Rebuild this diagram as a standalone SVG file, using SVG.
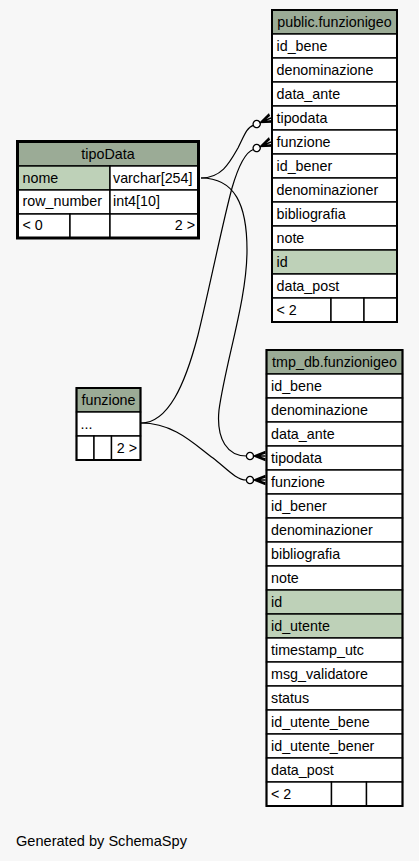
<svg xmlns="http://www.w3.org/2000/svg" width="419" height="861" viewBox="0 0 419 861">
<style>
text{font-family:"Liberation Sans",Arial,sans-serif;font-size:14.3px;fill:#000}
.c{fill:#fff;stroke:#000;stroke-width:1.4}
.h{fill:#9bab96;stroke:#000;stroke-width:1.4}
.k{fill:#bed1b8;stroke:#000;stroke-width:1.4}
.o{fill:none;stroke:#000;stroke-width:2}
.mid{text-anchor:middle}
.end{text-anchor:end}
.e{fill:none;stroke:#000;stroke-width:1.2}
</style>
<defs>
<g id="crow">
<circle cx="0" cy="0" r="3.6" fill="#fff" stroke="#000" stroke-width="1.3"/>
<path d="M15.5,-4.5 L4,0 L15.5,4.5 M4,0 L15.5,0 M15.5,-3 L6,0 L15.5,3" fill="none" stroke="#000" stroke-width="1.4"/>
</g>
</defs>
<rect width="419" height="861" fill="#f7f7f7"/>

<g id="connectors">
<path class="e" d="M201,178 C222,178 230,162 238,148 C244,136 247,127 253.3,125.3"/>
<path class="e" d="M201,178 C235,178 247,205 247,250 C247,300 226,360 219,410 C216,440 228,456 246.4,456"/>
<path class="e" d="M141,423 C168,423 185,385 198,335 C208,295 222,225 232,188 C239,164 246,152 253.3,149.5"/>
<path class="e" d="M141,423 C175,423 195,445 213,458 C226,468 236,480 246.4,480"/>
<use href="#crow" transform="translate(256.7,124) rotate(-22.8)"/>
<use href="#crow" transform="translate(256.7,148) rotate(-22.8)"/>
<use href="#crow" transform="translate(250,456)"/>
<use href="#crow" transform="translate(250,480)"/>
</g>

<g id="public.funzionigeo">
<rect class="h" x="272" y="10" width="125" height="24"/>
<rect class="c" x="272" y="34" width="125" height="24"/>
<rect class="c" x="272" y="58" width="125" height="24"/>
<rect class="c" x="272" y="82" width="125" height="24"/>
<rect class="c" x="272" y="106" width="125" height="24"/>
<rect class="c" x="272" y="130" width="125" height="24"/>
<rect class="c" x="272" y="154" width="125" height="24"/>
<rect class="c" x="272" y="178" width="125" height="24"/>
<rect class="c" x="272" y="202" width="125" height="24"/>
<rect class="c" x="272" y="226" width="125" height="24"/>
<rect class="k" x="272" y="250" width="125" height="24"/>
<rect class="c" x="272" y="274" width="125" height="24"/>
<rect class="c" x="272" y="298" width="59" height="24"/>
<rect class="c" x="331" y="298" width="33" height="24"/>
<rect class="c" x="364" y="298" width="33" height="24"/>
<rect class="o" x="272" y="10" width="125" height="312"/>
<text class="mid" x="334.5" y="27">public.funzionigeo</text>
<text x="276.5" y="50.5">id_bene</text>
<text x="276.5" y="74.5">denominazione</text>
<text x="276.5" y="98.5">data_ante</text>
<text x="276.5" y="122.5">tipodata</text>
<text x="276.5" y="146.5">funzione</text>
<text x="276.5" y="170.5">id_bener</text>
<text x="276.5" y="194.5">denominazioner</text>
<text x="276.5" y="218.5">bibliografia</text>
<text x="276.5" y="242.5">note</text>
<text x="276.5" y="266.5">id</text>
<text x="276.5" y="290.5">data_post</text>
<text x="276.5" y="314.5">&lt; 2</text>
</g>

<g id="tmp_db.funzionigeo">
<rect class="h" x="266.5" y="350" width="136" height="24"/>
<rect class="c" x="266.5" y="374" width="136" height="24"/>
<rect class="c" x="266.5" y="398" width="136" height="24"/>
<rect class="c" x="266.5" y="422" width="136" height="24"/>
<rect class="c" x="266.5" y="446" width="136" height="24"/>
<rect class="c" x="266.5" y="470" width="136" height="24"/>
<rect class="c" x="266.5" y="494" width="136" height="24"/>
<rect class="c" x="266.5" y="518" width="136" height="24"/>
<rect class="c" x="266.5" y="542" width="136" height="24"/>
<rect class="c" x="266.5" y="566" width="136" height="24"/>
<rect class="k" x="266.5" y="590" width="136" height="24"/>
<rect class="k" x="266.5" y="614" width="136" height="24"/>
<rect class="c" x="266.5" y="638" width="136" height="24"/>
<rect class="c" x="266.5" y="662" width="136" height="24"/>
<rect class="c" x="266.5" y="686" width="136" height="24"/>
<rect class="c" x="266.5" y="710" width="136" height="24"/>
<rect class="c" x="266.5" y="734" width="136" height="24"/>
<rect class="c" x="266.5" y="758" width="136" height="24"/>
<rect class="c" x="266.5" y="782" width="65" height="24"/>
<rect class="c" x="331.5" y="782" width="35" height="24"/>
<rect class="c" x="366.5" y="782" width="36" height="24"/>
<rect class="o" x="266.5" y="350" width="136" height="456"/>
<text class="mid" x="334.5" y="367">tmp_db.funzionigeo</text>
<text x="271" y="390.5">id_bene</text>
<text x="271" y="414.5">denominazione</text>
<text x="271" y="438.5">data_ante</text>
<text x="271" y="462.5">tipodata</text>
<text x="271" y="486.5">funzione</text>
<text x="271" y="510.5">id_bener</text>
<text x="271" y="534.5">denominazioner</text>
<text x="271" y="558.5">bibliografia</text>
<text x="271" y="582.5">note</text>
<text x="271" y="606.5">id</text>
<text x="271" y="630.5">id_utente</text>
<text x="271" y="654.5">timestamp_utc</text>
<text x="271" y="678.5">msg_validatore</text>
<text x="271" y="702.5">status</text>
<text x="271" y="726.5">id_utente_bene</text>
<text x="271" y="750.5">id_utente_bener</text>
<text x="271" y="774.5">data_post</text>
<text x="271" y="798.5">&lt; 2</text>
</g>

<g id="funzione">
<rect class="h" x="76.5" y="388" width="64" height="24"/>
<rect class="c" x="76.5" y="412" width="64" height="24"/>
<rect class="c" x="76.5" y="436" width="17.5" height="24"/>
<rect class="c" x="94" y="436" width="17.5" height="24"/>
<rect class="c" x="111.5" y="436" width="29" height="24"/>
<rect class="o" x="76.5" y="388" width="64" height="72"/>
<text class="mid" x="108.5" y="405">funzione</text>
<text x="80.5" y="428.5">...</text>
<text class="end" x="137" y="452.5">2 &gt;</text>
</g>

<g id="tipoData">
<rect class="h" x="17.5" y="141.5" width="181" height="24.5"/>
<rect class="k" x="17.5" y="166" width="92.5" height="24"/>
<rect class="c" x="110" y="166" width="88.5" height="24"/>
<rect class="c" x="17.5" y="190" width="92.5" height="24"/>
<rect class="c" x="110" y="190" width="88.5" height="24"/>
<rect class="c" x="17.5" y="214" width="52.5" height="24"/>
<rect class="c" x="70" y="214" width="40" height="24"/>
<rect class="c" x="110" y="214" width="88.5" height="24"/>
<rect fill="none" stroke="#000" stroke-width="3" x="17.5" y="141.5" width="181" height="96.5"/>
<text class="mid" x="108" y="158.5">tipoData</text>
<text x="22.5" y="182.5">nome</text>
<text x="113" y="182.5">varchar[254]</text>
<text x="22.5" y="206">row_number</text>
<text x="113" y="206">int4[10]</text>
<text x="22.5" y="230">&lt; 0</text>
<text class="end" x="195" y="230">2 &gt;</text>
</g>

<text x="16" y="846" textLength="171" lengthAdjust="spacingAndGlyphs">Generated by SchemaSpy</text>
</svg>
